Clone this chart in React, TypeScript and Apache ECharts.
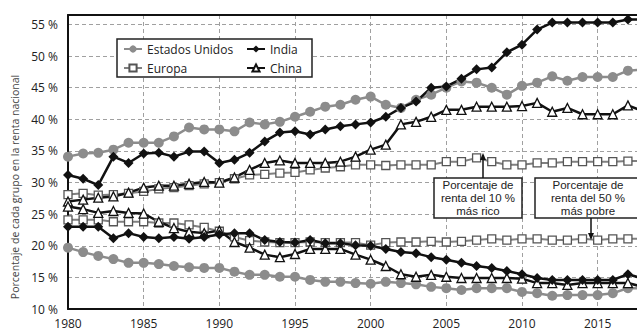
import React, { useEffect, useRef } from "react";
import * as echarts from "echarts";

const years = [1980,1981,1982,1983,1984,1985,1986,1987,1988,1989,1990,1991,1992,1993,1994,1995,1996,1997,1998,1999,2000,2001,2002,2003,2004,2005,2006,2007,2008,2009,2010,2011,2012,2013,2014,2015,2016,2017,2018];

// Top 10 % share
const usTop10 = [34.1,34.6,34.7,35.2,36.3,36.3,36.3,37.3,38.7,38.4,38.4,38.1,39.5,39.2,39.6,40.4,41.2,42.0,42.3,43.1,43.6,42.3,41.8,43.1,43.9,45.0,46.0,45.8,45.0,43.9,45.3,45.8,46.8,46.1,46.7,46.7,46.7,47.7,47.9];
const indiaTop10 = [31.2,30.6,29.6,34.1,33.1,34.6,34.7,34.1,34.9,34.9,33.1,33.6,34.7,36.5,37.9,38.1,37.6,38.4,38.9,39.2,39.5,40.4,41.8,42.8,45.0,45.2,46.4,47.9,48.2,50.6,51.8,54.2,55.3,55.3,55.3,55.3,55.3,55.8,55.8];
const europeTop10 = [28.1,28.3,28.0,28.1,28.3,28.6,29.0,29.2,29.5,29.8,30.0,30.6,31.2,31.3,31.5,31.6,32.0,32.3,32.5,32.8,32.8,32.7,32.8,32.8,32.8,33.3,33.3,33.9,33.3,32.8,32.8,33.1,33.1,33.3,33.3,33.3,33.3,33.4,33.4];
const chinaTop10 = [27.0,27.3,27.6,27.8,28.4,29.2,29.5,29.5,29.8,30.1,30.0,30.8,32.0,33.1,33.5,33.1,33.1,33.1,33.3,34.1,35.2,36.0,39.2,39.6,40.4,41.5,41.5,42.0,42.0,42.0,42.1,42.6,41.2,41.8,40.8,40.8,40.8,42.2,41.3];

// Bottom 50 % share
const usBottom50 = [19.7,19.0,18.4,17.9,17.3,17.3,17.1,16.8,16.6,16.5,16.5,15.9,15.4,15.4,15.1,15.1,14.6,14.3,14.3,14.1,14.0,14.3,14.1,13.9,13.5,13.3,13.0,13.3,13.3,13.3,12.7,12.5,12.1,12.2,12.2,12.2,12.5,13.3,13.3];
const indiaBottom50 = [23.0,23.0,23.0,21.2,22.0,21.4,21.2,21.4,21.1,21.4,21.8,22.0,22.0,20.9,20.6,20.5,20.9,20.4,20.4,20.1,20.0,19.5,19.0,18.8,18.2,17.8,17.3,16.8,16.5,16.0,15.5,14.9,14.6,14.6,14.6,14.6,14.6,15.5,14.8];
const europeBottom50 = [24.1,24.1,24.1,23.8,23.8,23.8,23.6,23.6,23.3,22.9,22.3,21.4,20.8,20.6,20.5,20.5,20.6,20.5,20.5,20.5,20.1,20.5,20.6,20.6,20.7,20.6,20.7,20.9,21.1,20.9,21.1,21.1,20.9,20.9,21.1,20.9,21.1,21.1,21.1];
const chinaBottom50 = [26.2,25.8,25.2,25.5,25.2,25.1,23.8,22.8,22.2,22.0,22.4,20.6,19.7,18.6,18.2,18.7,19.5,19.5,19.5,18.6,17.8,16.8,15.5,15.1,15.4,15.1,14.9,14.9,14.9,14.9,14.8,14.1,14.1,13.8,14.1,14.1,14.1,14.1,13.5];

const yTicks = ["10 %","15 %","20 %","25 %","30 %","35 %","40 %","45 %","50 %","55 %"];
const yTitle = "Porcentaje de cada grupo en la renta nacional";
const note10 = ["Porcentaje de", "renta del 10 %", "más rico"];
const note50 = ["Porcentaje de", "renta del 50 %", "más pobre"];

const FONT = "'Open Sans', sans-serif";
const NOTE_FONT = "'Liberation Sans', Arial, sans-serif";

const pairs = (vals: number[]) => years.map((y, i) => [y, vals[i]]);

const styles: Record<string, any> = {
  "Estados Unidos": {
    symbol: "circle", symbolSize: 10,
    lineStyle: { color: "#8c8c8c", width: 2.5 },
    itemStyle: { color: "#8c8c8c", borderWidth: 0 },
  },
  India: {
    symbol: "diamond", symbolSize: 10,
    lineStyle: { color: "#111", width: 2.5 },
    itemStyle: { color: "#111", borderWidth: 0 },
  },
  Europa: {
    symbol: "rect", symbolSize: 8,
    lineStyle: { color: "#808080", width: 2 },
    itemStyle: { color: "#fff", borderColor: "#555", borderWidth: 1.3 },
  },
  China: {
    symbol: "triangle", symbolSize: 9,
    lineStyle: { color: "#111", width: 2.5 },
    itemStyle: { color: "#fff", borderColor: "#111", borderWidth: 1.3 },
  },
};

const mk = (name: string, vals: number[]) => ({
  type: "line",
  name,
  data: pairs(vals),
  showSymbol: true,
  showAllSymbol: true,
  clip: true,
  ...styles[name],
  emphasis: { disabled: true },
});

const noteLines = (lines: string[], cx: number, y0: number) =>
  lines.map((t, i) => ({
    type: "text", z: 11, x: cx, y: y0 + i * 13,
    style: { text: t, fontSize: 11.5, fill: "#222", fontFamily: NOTE_FONT, align: "center", verticalAlign: "middle" },
  }));

export default function App() {
  const ref = useRef<HTMLDivElement>(null);
  useEffect(() => {
    if (!ref.current) return;
    const chart = echarts.init(ref.current, undefined, { renderer: "svg" });
    const option: any = {
      animation: false,
      backgroundColor: "#fff",
      textStyle: { fontFamily: FONT },
      grid: { left: 68, right: 0, top: 15, bottom: 21, containLabel: false },
      xAxis: [
        {
          type: "value", min: 1980, max: 2017.6, interval: 5,
          axisLine: { show: true, lineStyle: { color: "#111", width: 2 } },
          axisTick: { show: false },
          axisLabel: {
            showMaxLabel: false, margin: 8, color: "#222", fontSize: 12, fontFamily: FONT,
            formatter: (v: number) => (Number.isInteger(v) ? String(v) : ""),
          },
          splitLine: { show: true, lineStyle: { color: "#a0a0a0", type: [4, 3], width: 1 } },
        },
        {
          type: "value", min: 1980, max: 2017.6, position: "top",
          axisLine: { show: true, onZero: false, lineStyle: { color: "#111", width: 2 } },
          axisTick: { show: false }, axisLabel: { show: false }, splitLine: { show: false },
        },
      ],
      yAxis: {
        type: "value", min: 10, max: 56.5, interval: 5,
        axisLine: { show: true, onZero: false, lineStyle: { color: "#111", width: 2 } },
        axisTick: { show: false },
        axisLabel: {
          showMaxLabel: false, margin: 10, color: "#222", fontSize: 12, fontFamily: FONT,
          formatter: (v: number) => {
            const idx = Math.round((v - 10) / 5);
            return Number.isInteger(v) && yTicks[idx] ? yTicks[idx] : "";
          },
        },
        splitLine: { show: true, lineStyle: { color: "#a0a0a0", type: [4, 3], width: 1 } },
      },
      legend: [
        {
          data: ["Estados Unidos", "Europa"], orient: "vertical", left: 123, top: 42,
          itemGap: 5, itemWidth: 18, itemHeight: 9, padding: 0, selectedMode: false,
          textStyle: { fontSize: 12, lineHeight: 14, color: "#222", fontFamily: FONT },
          z: 5,
        },
        {
          data: ["India", "China"], orient: "vertical", left: 246, top: 42,
          itemGap: 5, itemWidth: 18, itemHeight: 9, padding: 0, selectedMode: false,
          textStyle: { fontSize: 12, lineHeight: 14, color: "#222", fontFamily: FONT },
          z: 5,
        },
      ],
      graphic: [
        { type: "rect", z: 1, shape: { x: 117, y: 39, width: 195, height: 38 },
          style: { fill: "#fff", stroke: "#222", lineWidth: 1.5 } },
        { type: "text", x: 15, y: 187, rotation: Math.PI / 2, z: 5,
          style: { text: yTitle, fontSize: 10.5, fill: "#444", fontFamily: FONT, align: "center", verticalAlign: "middle" } },
        { type: "rect", z: 10, shape: { x: 434, y: 178, width: 88, height: 40 },
          style: { fill: "#fff", stroke: "#222", lineWidth: 1.5 } },
        ...noteLines(note10, 478, 185),
        { type: "rect", z: 10, shape: { x: 535, y: 178, width: 110, height: 40 },
          style: { fill: "#fff", stroke: "#222", lineWidth: 1.5 } },
        ...noteLines(note50, 588, 185),
        { type: "line", z: 11, shape: { x1: 483, y1: 178, x2: 483, y2: 158 }, style: { stroke: "#111", lineWidth: 1.5 } },
        { type: "polygon", z: 11, shape: { points: [[483, 153], [480, 160], [486, 160]] }, style: { fill: "#111" } },
        { type: "line", z: 11, shape: { x1: 591, y1: 218, x2: 591, y2: 235 }, style: { stroke: "#111", lineWidth: 1.5 } },
        { type: "polygon", z: 11, shape: { points: [[591, 240], [588, 233], [594, 233]] }, style: { fill: "#111" } },
      ],
      series: [
        mk("Europa", europeTop10),
        mk("Europa", europeBottom50),
        mk("Estados Unidos", usTop10),
        mk("Estados Unidos", usBottom50),
        mk("China", chinaTop10),
        mk("China", chinaBottom50),
        mk("India", indiaTop10),
        mk("India", indiaBottom50),
      ],
    };
    chart.setOption(option);
    return () => chart.dispose();
  }, []);
  return (
    <div
      ref={ref}
      style={{ position: "fixed", left: 0, top: 0, width: 637, height: 330, background: "#fff" }}
    />
  );
}
